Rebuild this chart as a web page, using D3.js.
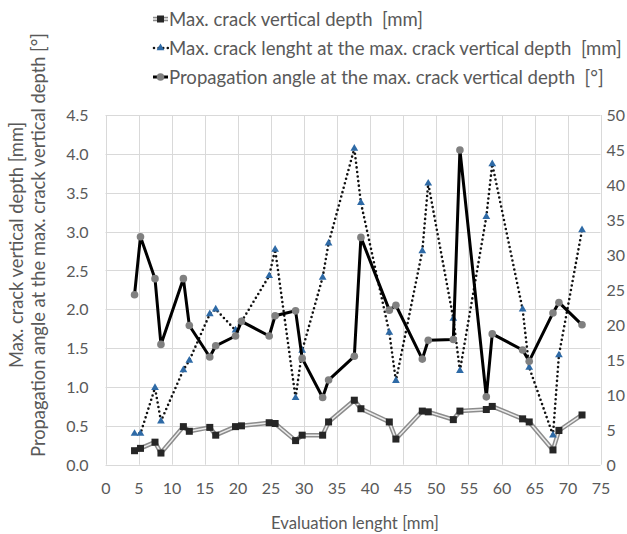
<!DOCTYPE html>
<html>
<head>
<meta charset="utf-8">
<script src="https://cdn.jsdelivr.net/npm/d3@7"></script>
<style>
  html, body { margin: 0; padding: 0; background: #fff; }
  svg { display: block; }
  text { white-space: pre; }
</style>
</head>
<body>
<svg id="chart" width="627" height="534"></svg>
<script>
// ---- data ----
const evalLength = [4.4, 5.3, 7.5, 8.4, 11.8, 12.7, 15.8, 16.7, 19.7, 20.6, 24.8, 25.7, 28.8, 29.8, 32.9, 33.8, 37.7, 38.7, 43.0, 44.0, 48.0, 48.9, 52.7, 53.7, 57.7, 58.6, 63.2, 64.2, 67.8, 68.7, 72.2];
const crackDepth = [0.18, 0.21, 0.29, 0.15, 0.49, 0.43, 0.48, 0.38, 0.49, 0.50, 0.54, 0.53, 0.31, 0.38, 0.38, 0.55, 0.83, 0.72, 0.55, 0.33, 0.69, 0.68, 0.58, 0.69, 0.71, 0.75, 0.59, 0.55, 0.19, 0.44, 0.64];
const crackLength = [0.40, 0.40, 0.99, 0.56, 1.22, 1.34, 1.94, 2.00, 1.73, 1.84, 2.43, 2.77, 0.86, 1.47, 2.41, 2.85, 4.07, 3.37, 1.70, 1.08, 2.75, 3.62, 1.88, 1.21, 3.19, 3.87, 2.00, 1.25, 0.38, 1.41, 3.02];
const propAngle = [24.3, 32.6, 26.6, 17.2, 26.6, 19.9, 15.4, 17.0, 18.4, 20.5, 18.4, 21.3, 22.0, 15.2, 9.6, 12.1, 15.5, 32.5, 22.1, 22.8, 15.1, 17.8, 17.9, 45.0, 9.7, 18.7, 16.4, 14.8, 21.7, 23.2, 20.0];

const xTicks = [0, 5, 10, 15, 20, 25, 30, 35, 40, 45, 50, 55, 60, 65, 70, 75];
const leftTicks = [0, 0.5, 1, 1.5, 2, 2.5, 3, 3.5, 4, 4.5];
const rightTicks = [0, 5, 10, 15, 20, 25, 30, 35, 40, 45, 50];

const legendLabels = [
  "Max. crack vertical depth  [mm]",
  "Max. crack lenght at the max. crack vertical depth  [mm]",
  "Propagation angle at the max. crack vertical depth  [°]"
];
const yTitleLines = ["Max. crack vertical depth [mm]", "Propagation angle at the max. crack vertical depth [°]"];
const xTitle = "Evaluation lenght [mm]";

// ---- layout ----
const FONT = "Lato, 'Open Sans', sans-serif";
const TXT = "#595959";
const svg = d3.select("#chart");

const x = d3.scaleLinear().domain([0, 75]).range([105.5, 600.5]);
const yL = d3.scaleLinear().domain([0, 4.5]).range([464.7, 115]);
const yR = d3.scaleLinear().domain([0, 50]).range([464.7, 115]);

function fit(sel, target) {
  const w = sel.node().getComputedTextLength();
  const fs = parseFloat(sel.attr("font-size"));
  const nfs = fs * target / w;
  sel.attr("font-size", nfs.toFixed(2));
  return nfs;
}

// gridlines
const grid = svg.append("g");
grid.selectAll("line.h").data(leftTicks).join("line")
  .attr("x1", x(0)).attr("x2", x(75))
  .attr("y1", d => Math.round(yL(d)) + 0.5).attr("y2", d => Math.round(yL(d)) + 0.5)
  .attr("stroke", "#d9d9d9").attr("stroke-width", 1);
grid.selectAll("line.v").data(xTicks).join("line")
  .attr("y1", yL(4.5)).attr("y2", yL(0))
  .attr("x1", d => Math.round(x(d)) + 0.5).attr("x2", d => Math.round(x(d)) + 0.5)
  .attr("stroke", "#d9d9d9").attr("stroke-width", 1);

// axes
const ax = svg.append("g").attr("transform", `translate(0,${yL(0)})`)
  .call(d3.axisBottom(x).tickValues(xTicks).tickSize(0).tickPadding(18));
const ayl = svg.append("g").attr("transform", `translate(${x(0)},0)`)
  .call(d3.axisLeft(yL).tickValues(leftTicks).tickFormat(d3.format(".1f")).tickSize(0).tickPadding(17));
const ayr = svg.append("g").attr("transform", `translate(${x(75)},0)`)
  .call(d3.axisRight(yR).tickValues(rightTicks).tickSize(0).tickPadding(6));
[ax, ayl, ayr].forEach(g => {
  g.select(".domain").remove();
  g.selectAll("text").attr("font-family", FONT).attr("font-size", 16).attr("fill", TXT);
});
ayl.selectAll("text").attr("dy", "0.35em");
ayr.selectAll("text").attr("dy", "0.35em");

// series data
const pts = evalLength.map((v, i) => ({ x: v, depth: crackDepth[i], len: crackLength[i], ang: propAngle[i] }));

// depth series (double grey line + dark squares)
const lineDepth = d3.line().x(d => x(d.x)).y(d => yL(d.depth));
svg.append("path").datum(pts).attr("d", lineDepth).attr("fill", "none")
  .attr("stroke", "#8c8c8c").attr("stroke-width", 4.5).attr("stroke-linejoin", "round");
svg.append("path").datum(pts).attr("d", lineDepth).attr("fill", "none")
  .attr("stroke", "#ececec").attr("stroke-width", 1.5).attr("stroke-linejoin", "round");
svg.append("g").selectAll("rect").data(pts).join("rect")
  .attr("x", d => x(d.x) - 3.5).attr("y", d => yL(d.depth) - 3.5)
  .attr("width", 7).attr("height", 7).attr("fill", "#262626");

// crack length series (dotted line + blue triangles)
const lineLen = d3.line().x(d => x(d.x)).y(d => yL(d.len));
svg.append("path").datum(pts).attr("d", lineLen).attr("fill", "none")
  .attr("stroke", "#111").attr("stroke-width", 2.6)
  .attr("stroke-dasharray", "0,4.6").attr("stroke-linecap", "round");
const tri = d3.symbol(d3.symbolTriangle, 26);
svg.append("g").selectAll("path").data(pts).join("path")
  .attr("d", tri).attr("transform", d => `translate(${x(d.x)},${yL(d.len)})`)
  .attr("fill", "#2e6aa6");

// angle series (solid black line + grey circles)
const lineAng = d3.line().x(d => x(d.x)).y(d => yR(d.ang));
svg.append("path").datum(pts).attr("d", lineAng).attr("fill", "none")
  .attr("stroke", "#000").attr("stroke-width", 3).attr("stroke-linejoin", "round");
svg.append("g").selectAll("circle").data(pts).join("circle")
  .attr("cx", d => x(d.x)).attr("cy", d => yR(d.ang)).attr("r", 3.8)
  .attr("fill", "#808080");

// legend
const legY = [19, 48, 77];
const legTargets = [254, 453, 435];
const leg = svg.append("g");
legendLabels.forEach((lab, i) => {
  const g = leg.append("g").attr("transform", `translate(0,${legY[i]})`);
  if (i === 0) {
    g.append("line").attr("x1", 153).attr("x2", 168).attr("y1", 0).attr("y2", 0)
      .attr("stroke", "#8c8c8c").attr("stroke-width", 4.5);
    g.append("line").attr("x1", 153).attr("x2", 168).attr("y1", 0).attr("y2", 0)
      .attr("stroke", "#ececec").attr("stroke-width", 1.5);
    g.append("rect").attr("x", 157).attr("y", -3.5).attr("width", 7).attr("height", 7).attr("fill", "#262626");
  } else if (i === 1) {
    g.append("line").attr("x1", 154).attr("x2", 168).attr("y1", 0).attr("y2", 0)
      .attr("stroke", "#111").attr("stroke-width", 2.6)
      .attr("stroke-dasharray", "0,4.6").attr("stroke-linecap", "round");
    g.append("path").attr("d", tri).attr("transform", "translate(160.5,0)").attr("fill", "#2e6aa6");
  } else {
    g.append("line").attr("x1", 153).attr("x2", 168).attr("y1", 0).attr("y2", 0)
      .attr("stroke", "#000").attr("stroke-width", 3);
    g.append("circle").attr("cx", 160.5).attr("cy", 0).attr("r", 3.8).attr("fill", "#808080");
  }
  const t = g.append("text").attr("x", 169).attr("y", 0).attr("dy", "0.35em")
    .attr("font-family", FONT).attr("font-size", 16).attr("fill", TXT).text(lab);
  fit(t, legTargets[i]);
});

// axis titles (same font size for both lines)
const yt2 = svg.append("text").attr("transform", "translate(39,245) rotate(-90)")
  .attr("text-anchor", "middle").attr("dy", "0.35em")
  .attr("font-family", FONT).attr("font-size", 16).attr("fill", TXT).text(yTitleLines[1]);
const ytSize = fit(yt2, 424);
svg.append("text").attr("transform", "translate(17,245) rotate(-90)")
  .attr("text-anchor", "middle").attr("dy", "0.35em")
  .attr("font-family", FONT).attr("font-size", ytSize.toFixed(2)).attr("fill", TXT).text(yTitleLines[0]);
const xt = svg.append("text").attr("x", 355).attr("y", 523)
  .attr("text-anchor", "middle").attr("dy", "0.35em")
  .attr("font-family", FONT).attr("font-size", 16).attr("fill", TXT).text(xTitle);
fit(xt, 168);
</script>
</body>
</html>
